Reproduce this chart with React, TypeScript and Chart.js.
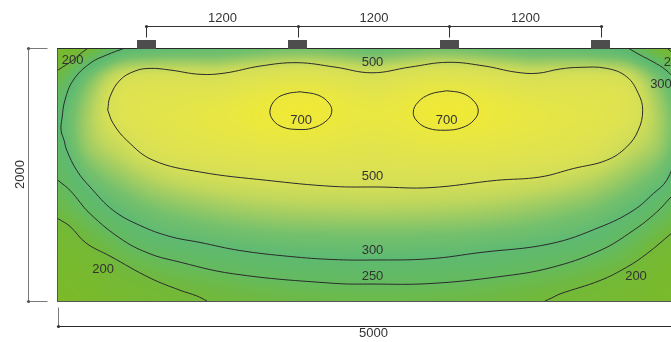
import { useEffect, useRef } from "react";
import { Chart, registerables } from "chart.js";

Chart.register(...registerables);

// ---------- data (millimetres, illuminance in lx) ----------
const ROOM_WIDTH = 5000;
const ROOM_DEPTH = 2000;
const LAMP_X = [700, 1900, 3100, 4300];

const GRID_X = [0, 250, 500, 750, 1000, 1250, 1500, 1750, 2000, 2250, 2500, 2750, 3000, 3250, 3500, 3750, 4000, 4250, 4500, 4750, 5000];
const GRID_Y = [0, 250, 500, 750, 1000, 1250, 1500, 1750, 2000];

const LUX_Y0000 = [170, 200, 280, 305, 315, 318, 330, 345, 350, 335, 320, 335, 350, 345, 330, 318, 315, 305, 280, 200, 170];
const LUX_Y0250 = [225, 360, 500, 530, 530, 525, 560, 590, 600, 570, 540, 570, 600, 590, 560, 525, 530, 530, 500, 360, 225];
const LUX_Y0500 = [290, 420, 560, 600, 620, 650, 685, 730, 740, 685, 665, 685, 740, 730, 685, 650, 620, 600, 560, 420, 290];
const LUX_Y0750 = [285, 410, 485, 555, 590, 610, 630, 645, 645, 625, 610, 625, 645, 645, 630, 610, 590, 555, 485, 410, 285];
const LUX_Y1000 = [255, 340, 400, 450, 485, 505, 520, 528, 530, 530, 530, 530, 530, 528, 520, 505, 485, 450, 400, 340, 255];
const LUX_Y1250 = [225, 270, 320, 360, 385, 405, 420, 430, 435, 438, 440, 438, 435, 430, 420, 405, 385, 360, 320, 270, 225];
const LUX_Y1500 = [185, 215, 255, 290, 308, 322, 332, 340, 343, 345, 345, 345, 343, 340, 332, 322, 308, 290, 255, 215, 185];
const LUX_Y1750 = [160, 175, 208, 225, 240, 250, 262, 270, 275, 277, 278, 277, 275, 270, 262, 250, 240, 225, 208, 175, 160];
const LUX_Y2000 = [140, 155, 175, 188, 198, 205, 212, 218, 222, 224, 225, 224, 222, 218, 212, 205, 198, 188, 175, 155, 140];

const STOP_LUX = [130, 200, 250, 300, 350, 400, 450, 500, 600, 700, 780];
const STOP_COLOR = ["#7cba26", "#74b936", "#64ba5e", "#5eba72", "#74c06c", "#9ccb64", "#c0d75c", "#d5df56", "#e2e44c", "#ece83c", "#f2ea30"];

// isolux lines [x, y] in mm (y measured from the lamp wall)
const ISO_500 = [[394, 491], [412, 386], [491, 254], [610, 182], [729, 161], [887, 174], [1125, 208], [1323, 198], [1601, 143], [1894, 116], [2195, 151], [2488, 196], [2789, 151], [3090, 113], [3384, 143], [3621, 190], [3796, 200], [3978, 166], [4137, 153], [4348, 161], [4506, 227], [4598, 359], [4633, 491], [4598, 650], [4506, 782], [4348, 887], [4083, 953], [3819, 1020], [3476, 1046], [2948, 1104], [2552, 1099], [2179, 1094], [1654, 1046], [1125, 980], [753, 887], [544, 729], [436, 594], [394, 491]];
const ISO_700_A = [[1918, 346], [2060, 372], [2147, 436], [2169, 507], [2124, 578], [2013, 634], [1902, 644], [1783, 626], [1704, 570], [1680, 491], [1728, 404], [1815, 361], [1918, 346]];
const ISO_700_B = [[3080, 338], [3201, 357], [3288, 412], [3330, 491], [3296, 570], [3201, 630], [3067, 650], [2932, 634], [2845, 578], [2815, 507], [2853, 428], [2948, 365], [3080, 338]];
const ISO_300 = [[531, 0], [386, 55], [254, 121], [121, 254], [55, 412], [32, 555], [24, 650], [48, 729], [69, 808], [148, 967], [254, 1099], [438, 1284], [650, 1403], [887, 1490], [1125, 1537], [1442, 1601], [1838, 1648], [2179, 1672], [2496, 1676], [2948, 1666], [3344, 1617], [3899, 1548], [4295, 1416], [4559, 1284], [4717, 1151], [4823, 1046], [4897, 848], [4953, 610], [4960, 412], [4888, 254], [4817, 174], [4715, 109], [4612, 55], [4517, 0]];
const ISO_250 = [[0, 1046], [95, 1125], [254, 1310], [517, 1521], [729, 1627], [914, 1680], [1389, 1785], [2181, 1860], [2496, 1866], [2948, 1862], [3502, 1807], [3899, 1738], [4295, 1601], [4559, 1442], [4744, 1297], [4857, 1178], [5000, 1030]];
const ISO_200_BL = [[0, 1349], [95, 1410], [220, 1540], [412, 1645], [729, 1818], [967, 1915], [1100, 1960], [1181, 2000]];
const ISO_200_BR = [[3859, 2000], [3914, 1975], [3978, 1944], [4295, 1838], [4506, 1733], [4665, 1627], [4857, 1468], [5000, 1347]];
const ISO_200_TL = [[0, 174], [121, 95], [174, 48], [240, 0]];
const ISO_200_TR = [[4826, 0], [4880, 50], [4935, 100], [5000, 160]];

const LABEL_TEXT = ["200", "500", "700", "700", "500", "300", "200", "300", "250", "200", "200"];
const LABEL_X = [115, 2492, 1926, 3080, 2492, 4778, 4885, 2492, 2492, 357, 4580];
const LABEL_Y = [95, 111, 570, 570, 1014, 285, 111, 1601, 1807, 1751, 1807];

// ---------- helpers ----------
const LUX_GRID = [LUX_Y0000, LUX_Y0250, LUX_Y0500, LUX_Y0750, LUX_Y1000, LUX_Y1250, LUX_Y1500, LUX_Y1750, LUX_Y2000];
const FONT = '13px "Liberation Sans", Arial, sans-serif';
const TEXT_COLOR = "#333333";
const LINE_COLOR = "#2b2b2b";

const hexToRgb = (h: string) => [parseInt(h.slice(1, 3), 16), parseInt(h.slice(3, 5), 16), parseInt(h.slice(5, 7), 16)];
const STOP_RGB = STOP_COLOR.map(hexToRgb);

function colorFor(v: number): number[] {
  if (v <= STOP_LUX[0]) return STOP_RGB[0];
  for (let i = 1; i < STOP_LUX.length; i++) {
    if (v <= STOP_LUX[i]) {
      const t = (v - STOP_LUX[i - 1]) / (STOP_LUX[i] - STOP_LUX[i - 1]);
      const a = STOP_RGB[i - 1], b = STOP_RGB[i];
      return [a[0] + (b[0] - a[0]) * t, a[1] + (b[1] - a[1]) * t, a[2] + (b[2] - a[2]) * t];
    }
  }
  return STOP_RGB[STOP_RGB.length - 1];
}

const cr = (p0: number, p1: number, p2: number, p3: number, t: number) =>
  p1 + 0.5 * t * (p2 - p0 + t * (2 * p0 - 5 * p1 + 4 * p2 - p3 + t * (3 * (p1 - p2) + p3 - p0)));

function sampleGrid(fx: number, fy: number): number {
  const nx = GRID_X.length, ny = GRID_Y.length;
  fx = Math.max(0, Math.min(nx - 1, fx));
  fy = Math.max(0, Math.min(ny - 1, fy));
  const ix = Math.min(nx - 2, Math.floor(fx)), iy = Math.min(ny - 2, Math.floor(fy));
  const tx = fx - ix, ty = fy - iy;
  const cx = (i: number) => Math.max(0, Math.min(nx - 1, i));
  const cy = (j: number) => Math.max(0, Math.min(ny - 1, j));
  const rows: number[] = [];
  for (let j = -1; j <= 2; j++) {
    const r = LUX_GRID[cy(iy + j)];
    rows.push(cr(r[cx(ix - 1)], r[cx(ix)], r[cx(ix + 1)], r[cx(ix + 2)], tx));
  }
  return cr(rows[0], rows[1], rows[2], rows[3], ty);
}

const toPts = (arr: number[][]) => arr.map(([x, y]) => ({ x, y }));

function dot(ctx: CanvasRenderingContext2D, x: number, y: number) {
  ctx.beginPath();
  ctx.arc(x, y, 1.6, 0, Math.PI * 2);
  ctx.fill();
}

const roomPlugin = {
  id: "roomPlan",
  beforeDatasetsDraw(chart: any) {
    const { ctx, chartArea: a } = chart;
    const xs = chart.scales.x, ys = chart.scales.y;
    const left = Math.round(a.left), top = Math.round(a.top);
    const w = Math.round(a.right) - left, h = Math.round(a.bottom) - top;
    const img = ctx.createImageData(w, h);
    const dx = GRID_X[1] - GRID_X[0], dy = GRID_Y[1] - GRID_Y[0];
    const fxs: number[] = [];
    for (let px = 0; px < w; px++) fxs.push((xs.getValueForPixel(left + px + 0.5) - GRID_X[0]) / dx);
    for (let py = 0; py < h; py++) {
      const fy = (ys.getValueForPixel(top + py + 0.5) - GRID_Y[0]) / dy;
      for (let px = 0; px < w; px++) {
        const c = colorFor(sampleGrid(fxs[px], fy));
        const k = (py * w + px) * 4;
        img.data[k] = c[0];
        img.data[k + 1] = c[1];
        img.data[k + 2] = c[2];
        img.data[k + 3] = 255;
      }
    }
    ctx.putImageData(img, left, top);
  },
  afterDatasetsDraw(chart: any) {
    const { ctx, chartArea: a } = chart;
    const xs = chart.scales.x, ys = chart.scales.y;
    ctx.save();
    // room outline
    const L = Math.round(a.left) - 0.5, T = Math.round(a.top) + 0.5;
    const R = Math.round(a.right) - 0.5, B = Math.round(a.bottom) + 0.5;
    ctx.lineWidth = 1;
    ctx.strokeStyle = "#555555";
    ctx.strokeRect(L, T, R - L, B - T);
    ctx.strokeStyle = "#2a2a2a";
    ctx.beginPath();
    ctx.moveTo(L, T);
    ctx.lineTo(R, T);
    ctx.stroke();

    // isolux labels
    ctx.font = FONT;
    ctx.fillStyle = TEXT_COLOR;
    ctx.textAlign = "center";
    ctx.textBaseline = "middle";
    LABEL_TEXT.forEach((t, i) => {
      ctx.fillText(t, xs.getPixelForValue(LABEL_X[i]), ys.getPixelForValue(LABEL_Y[i]));
    });

    // lamps
    ctx.fillStyle = "#4d4d4d";
    LAMP_X.forEach((lx) => {
      const px = xs.getPixelForValue(lx);
      ctx.fillRect(Math.round(px - 9.5), Math.round(a.top) - 8, 19, 9);
    });

    // top dimension line (lamp spacing)
    const dimTop = Math.round(a.top) - 21.5;
    const lampPx = LAMP_X.map((lx) => Math.round(xs.getPixelForValue(lx)) + 0.5);
    ctx.strokeStyle = "#333333";
    ctx.fillStyle = "#333333";
    ctx.beginPath();
    ctx.moveTo(lampPx[0], dimTop);
    ctx.lineTo(lampPx[lampPx.length - 1], dimTop);
    lampPx.forEach((p) => {
      ctx.moveTo(p, dimTop);
      ctx.lineTo(p, dimTop + 11);
    });
    ctx.stroke();
    lampPx.forEach((p) => dot(ctx, p, dimTop));
    ctx.fillStyle = TEXT_COLOR;
    for (let i = 1; i < LAMP_X.length; i++) {
      ctx.fillText(String(LAMP_X[i] - LAMP_X[i - 1]), (lampPx[i] + lampPx[i - 1]) / 2, dimTop - 8);
    }

    // left dimension line (room depth)
    const dimLeft = Math.round(a.left) - 29.5;
    const yTop = ys.getPixelForValue(0), yBot = ys.getPixelForValue(ROOM_DEPTH);
    const yT = Math.round(yTop) + 0.5, yB = Math.round(yBot) + 0.5;
    ctx.strokeStyle = "#7a7a7a";
    ctx.fillStyle = "#555555";
    ctx.beginPath();
    ctx.moveTo(dimLeft, yT);
    ctx.lineTo(dimLeft, yB);
    ctx.moveTo(dimLeft, yT);
    ctx.lineTo(dimLeft + 19, yT);
    ctx.moveTo(dimLeft, yB);
    ctx.lineTo(dimLeft + 19, yB);
    ctx.stroke();
    dot(ctx, dimLeft, yT);
    dot(ctx, dimLeft, yB);
    ctx.fillStyle = TEXT_COLOR;
    ctx.save();
    ctx.translate(dimLeft - 8, (yTop + yBot) / 2);
    ctx.rotate(-Math.PI / 2);
    ctx.fillText(String(ROOM_DEPTH), 0, 0);
    ctx.restore();

    // bottom dimension line (room width)
    const dimBot = Math.round(a.bottom) + 25.5;
    const x0 = Math.round(xs.getPixelForValue(0)) + 0.5, x1 = Math.round(xs.getPixelForValue(ROOM_WIDTH)) + 0.5;
    ctx.strokeStyle = "#7a7a7a";
    ctx.beginPath();
    ctx.moveTo(x0, dimBot - 19);
    ctx.lineTo(x0, dimBot);
    ctx.stroke();
    ctx.strokeStyle = "#2a2a2a";
    ctx.beginPath();
    ctx.moveTo(x0, dimBot);
    ctx.lineTo(x1, dimBot);
    ctx.stroke();
    ctx.fillStyle = "#333333";
    dot(ctx, x0, dimBot);
    ctx.fillStyle = TEXT_COLOR;
    ctx.fillText(String(ROOM_WIDTH), (xs.getPixelForValue(0) + xs.getPixelForValue(ROOM_WIDTH)) / 2, dimBot + 6.5);
    ctx.restore();
  },
};

const isoDataset = (label: string, pts: number[][]) => ({
  label,
  data: toPts(pts),
  showLine: true,
  tension: 0.4,
  pointRadius: 0,
  borderWidth: 1,
  borderColor: LINE_COLOR,
  backgroundColor: LINE_COLOR,
  fill: false,
});

export default function App() {
  const ref = useRef<HTMLCanvasElement | null>(null);
  useEffect(() => {
    if (!ref.current) return;
    const chart = new Chart(ref.current, {
      type: "scatter",
      data: {
        datasets: [
          isoDataset("500 lx", ISO_500),
          isoDataset("700 lx A", ISO_700_A),
          isoDataset("700 lx B", ISO_700_B),
          isoDataset("300 lx", ISO_300),
          isoDataset("250 lx", ISO_250),
          isoDataset("200 lx BL", ISO_200_BL),
          isoDataset("200 lx BR", ISO_200_BR),
          isoDataset("200 lx TL", ISO_200_TL),
          isoDataset("200 lx TR", ISO_200_TR),
        ],
      },
      options: {
        responsive: false,
        animation: false,
        events: [],
        layout: { padding: { left: 58, top: 48, right: 11, bottom: 41 } },
        plugins: { legend: { display: false }, tooltip: { enabled: false }, title: { display: false } },
        scales: {
          x: { type: "linear", min: 0, max: ROOM_WIDTH, display: false },
          y: { type: "linear", min: 0, max: ROOM_DEPTH, reverse: true, display: false },
        },
      },
      plugins: [roomPlugin],
    } as any);
    return () => chart.destroy();
  }, []);
  return (
    <div style={{ position: "absolute", left: 0, top: 0, width: 671, height: 342, overflow: "hidden", background: "#fff" }}>
      <canvas ref={ref} width={700} height={342} style={{ display: "block", width: 700, height: 342 }} />
    </div>
  );
}
